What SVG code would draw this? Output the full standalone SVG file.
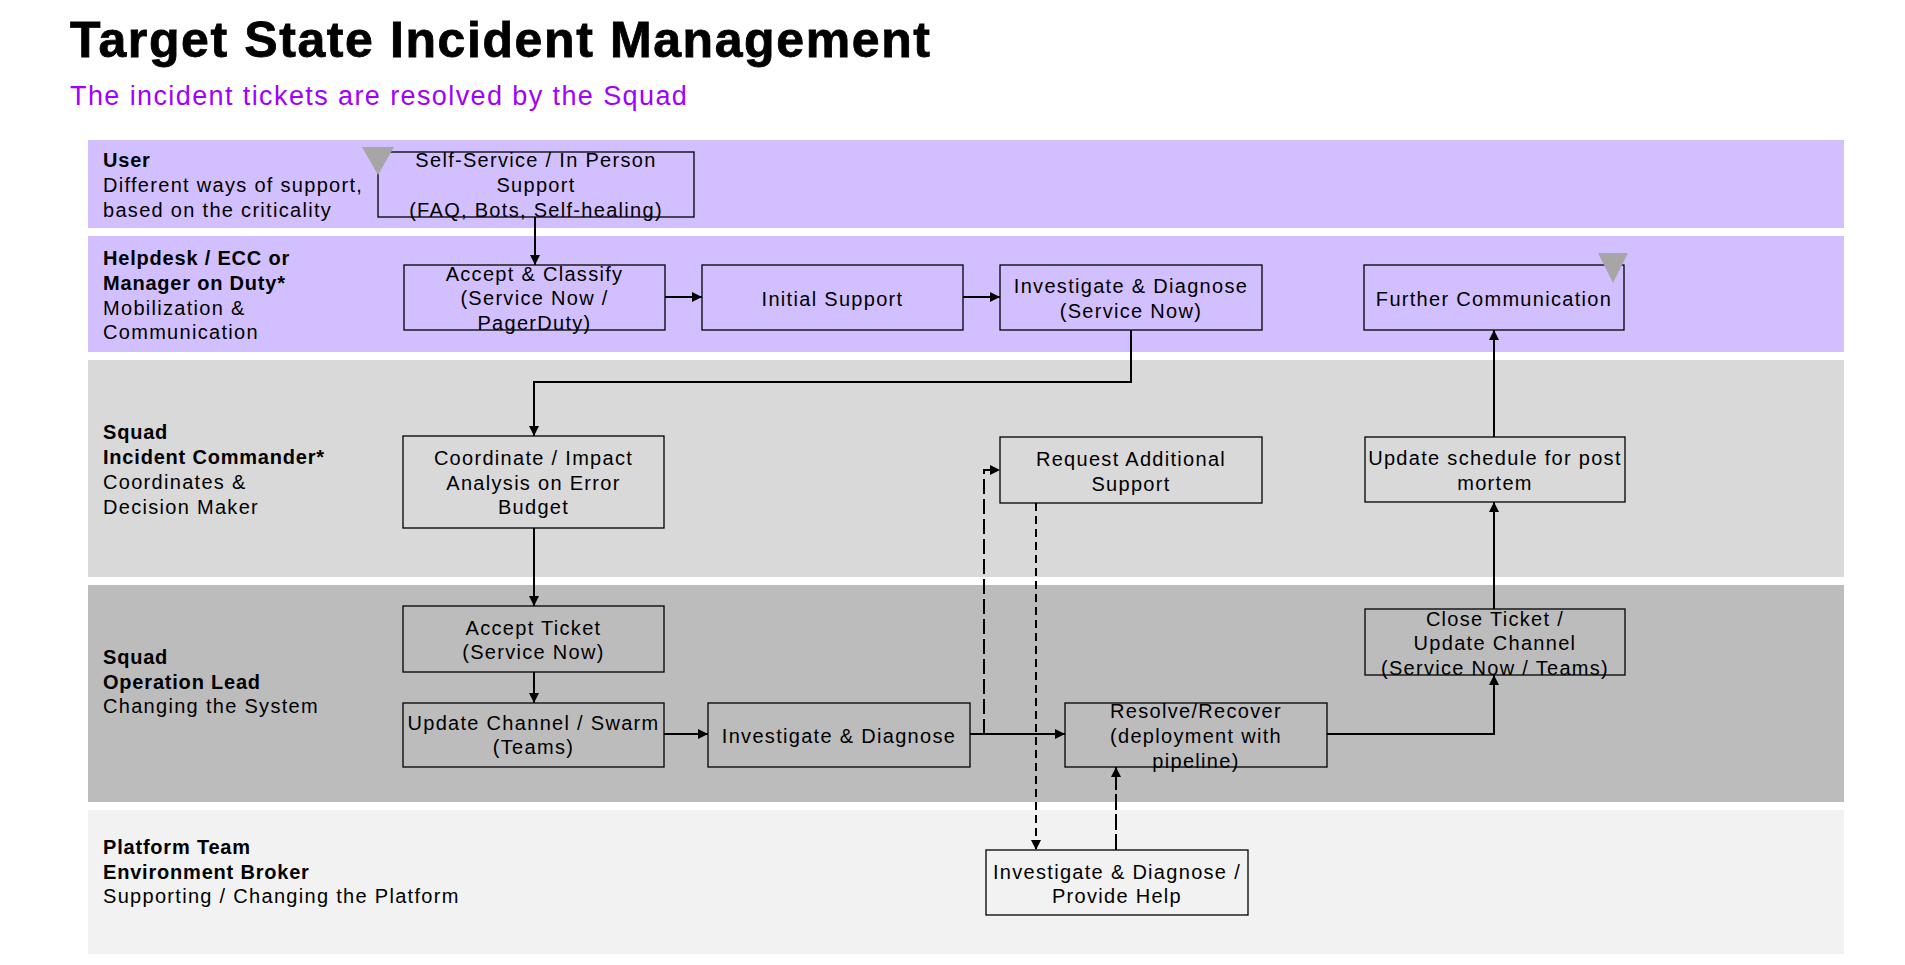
<svg xmlns="http://www.w3.org/2000/svg" width="1905" height="965" viewBox="0 0 1905 965">
<style>
  .lane-p{fill:#d2bfff}
  .lane-g1{fill:#d9d9d9}
  .lane-g2{fill:#bcbcbc}
  .lane-g3{fill:#f2f2f2}
  .box{fill:none;stroke:#000;stroke-width:1.3}
  .t{font-family:"Liberation Sans",Arial,sans-serif;font-size:20px;letter-spacing:1.3px;fill:#000}
  .c{text-anchor:middle}
  .b{font-weight:bold;letter-spacing:0.8px}
  .conn{fill:none;stroke:#000;stroke-width:2}
  .d1{stroke-dasharray:15 5}
  .d2{stroke-dasharray:8 5}
  .d3{stroke-dasharray:16 4}
  .tri{fill:#a6a6a6}
</style>
<defs>
  <marker id="arr" viewBox="0 0 10 10" refX="10" refY="5" markerWidth="10" markerHeight="10" markerUnits="userSpaceOnUse" orient="auto">
    <path d="M0,0 L10,5 L0,10 z" fill="#000"/>
  </marker>
</defs>
<rect width="1905" height="965" fill="#fff"/>
<text x="70" y="57" font-family="'Liberation Sans',Arial,sans-serif" font-weight="bold" font-size="50" letter-spacing="1.6" stroke="#000" stroke-width="0.8" fill="#000">Target State Incident Management</text>
<text x="70" y="105" font-family="'Liberation Sans',Arial,sans-serif" font-size="27" letter-spacing="1.4" fill="#a100ff">The incident tickets are resolved by the Squad</text>

<g id="lanes">
  <g id="lane-user">
    <rect class="lane-p" x="88" y="140" width="1756" height="88"/>
    <text class="t b" x="103" y="167">User</text>
    <text class="t" x="103" y="192">Different ways of support,</text>
    <text class="t" x="103" y="217">based on the criticality</text>
  </g>
  <g id="lane-helpdesk">
    <rect class="lane-p" x="88" y="236" width="1756" height="116"/>
    <text class="t b" x="103" y="265">Helpdesk / ECC or</text>
    <text class="t b" x="103" y="290">Manager on Duty*</text>
    <text class="t" x="103" y="315">Mobilization &amp;</text>
    <text class="t" x="103" y="339">Communication</text>
  </g>
  <g id="lane-ic">
    <rect class="lane-g1" x="88" y="360" width="1756" height="217"/>
    <text class="t b" x="103" y="439">Squad</text>
    <text class="t b" x="103" y="464">Incident Commander*</text>
    <text class="t" x="103" y="489">Coordinates &amp;</text>
    <text class="t" x="103" y="514">Decision Maker</text>
  </g>
  <g id="lane-ol">
    <rect class="lane-g2" x="88" y="585" width="1756" height="217"/>
    <text class="t b" x="103" y="664">Squad</text>
    <text class="t b" x="103" y="689">Operation Lead</text>
    <text class="t" x="103" y="713">Changing the System</text>
  </g>
  <g id="lane-platform">
    <rect class="lane-g3" x="88" y="810" width="1756" height="144"/>
    <text class="t b" x="103" y="854">Platform Team</text>
    <text class="t b" x="103" y="879">Environment Broker</text>
    <text class="t" x="103" y="903">Supporting / Changing the Platform</text>
  </g>
</g>

<g id="connectors">
  <path class="conn" d="M535,217 V265" marker-end="url(#arr)"/>
  <path class="conn" d="M665,297 H702" marker-end="url(#arr)"/>
  <path class="conn" d="M963,297 H1000" marker-end="url(#arr)"/>
  <path class="conn" d="M1131,330 V382 H534 V436" marker-end="url(#arr)"/>
  <path class="conn" d="M534,528 V606" marker-end="url(#arr)"/>
  <path class="conn" d="M534,672 V703" marker-end="url(#arr)"/>
  <path class="conn" d="M664,734 H708" marker-end="url(#arr)"/>
  <path class="conn" d="M970,734 H1065" marker-end="url(#arr)"/>
  <path class="conn d1" d="M984,734 V470 H1000" marker-end="url(#arr)"/>
  <path class="conn d2" d="M1036,503 V850" marker-end="url(#arr)"/>
  <path class="conn d3" d="M1116,850 V767" marker-end="url(#arr)"/>
  <path class="conn" d="M1327,734 H1494 V675" marker-end="url(#arr)"/>
  <path class="conn" d="M1494,609 V502" marker-end="url(#arr)"/>
  <path class="conn" d="M1494,437 V330" marker-end="url(#arr)"/>
</g>

<g id="n-selfservice">
  <rect class="box" x="378" y="152" width="316" height="65"/>
  <text class="t c" x="536" y="167">Self-Service / In Person</text>
  <text class="t c" x="536" y="192">Support</text>
  <text class="t c" x="536" y="216.5">(FAQ, Bots, Self-healing)</text>
</g>
<polygon class="tri" points="362,147 394,147 378,175"/>
<g id="n-accept">
  <rect class="box" x="404" y="265" width="261" height="65"/>
  <text class="t c" x="534.5" y="280.5">Accept &amp; Classify</text>
  <text class="t c" x="534.5" y="305">(Service Now /</text>
  <text class="t c" x="534.5" y="329.5">PagerDuty)</text>
</g>
<g id="n-initial">
  <rect class="box" x="702" y="265" width="261" height="65"/>
  <text class="t c" x="832.5" y="305.5">Initial Support</text>
</g>
<g id="n-investigate1">
  <rect class="box" x="1000" y="265" width="262" height="65"/>
  <text class="t c" x="1131" y="293">Investigate &amp; Diagnose</text>
  <text class="t c" x="1131" y="317.5">(Service Now)</text>
</g>
<g id="n-further">
  <rect class="box" x="1364" y="265" width="260" height="65"/>
  <text class="t c" x="1494" y="305.5">Further Communication</text>
</g>
<polygon class="tri" points="1598,253 1628,253 1613,283"/>
<g id="n-coordinate">
  <rect class="box" x="403" y="436" width="261" height="92"/>
  <text class="t c" x="533.5" y="465">Coordinate / Impact</text>
  <text class="t c" x="533.5" y="490">Analysis on Error</text>
  <text class="t c" x="533.5" y="514">Budget</text>
</g>
<g id="n-request">
  <rect class="box" x="1000" y="437" width="262" height="66"/>
  <text class="t c" x="1131" y="466">Request Additional</text>
  <text class="t c" x="1131" y="490.5">Support</text>
</g>
<g id="n-postmortem">
  <rect class="box" x="1365" y="437" width="260" height="65"/>
  <text class="t c" x="1495" y="465">Update schedule for post</text>
  <text class="t c" x="1495" y="490">mortem</text>
</g>
<g id="n-acceptticket">
  <rect class="box" x="403" y="606" width="261" height="66"/>
  <text class="t c" x="533.5" y="635">Accept Ticket</text>
  <text class="t c" x="533.5" y="659">(Service Now)</text>
</g>
<g id="n-updatechannel">
  <rect class="box" x="403" y="703" width="261" height="64"/>
  <text class="t c" x="533.5" y="730">Update Channel / Swarm</text>
  <text class="t c" x="533.5" y="754">(Teams)</text>
</g>
<g id="n-investigate2">
  <rect class="box" x="708" y="703" width="262" height="64"/>
  <text class="t c" x="839" y="742.5">Investigate &amp; Diagnose</text>
</g>
<g id="n-closeticket">
  <rect class="box" x="1365" y="609" width="260" height="66"/>
  <text class="t c" x="1495" y="625.5">Close Ticket /</text>
  <text class="t c" x="1495" y="650">Update Channel</text>
  <text class="t c" x="1495" y="674.5">(Service Now / Teams)</text>
</g>
<g id="n-resolve">
  <rect class="box" x="1065" y="703" width="262" height="64"/>
  <text class="t c" x="1196" y="718">Resolve/Recover</text>
  <text class="t c" x="1196" y="742.5">(deployment with</text>
  <text class="t c" x="1196" y="767.5">pipeline)</text>
</g>
<g id="n-platformhelp">
  <rect class="box" x="986" y="850" width="262" height="65"/>
  <text class="t c" x="1117" y="878.5">Investigate &amp; Diagnose /</text>
  <text class="t c" x="1117" y="903">Provide Help</text>
</g>
</svg>
